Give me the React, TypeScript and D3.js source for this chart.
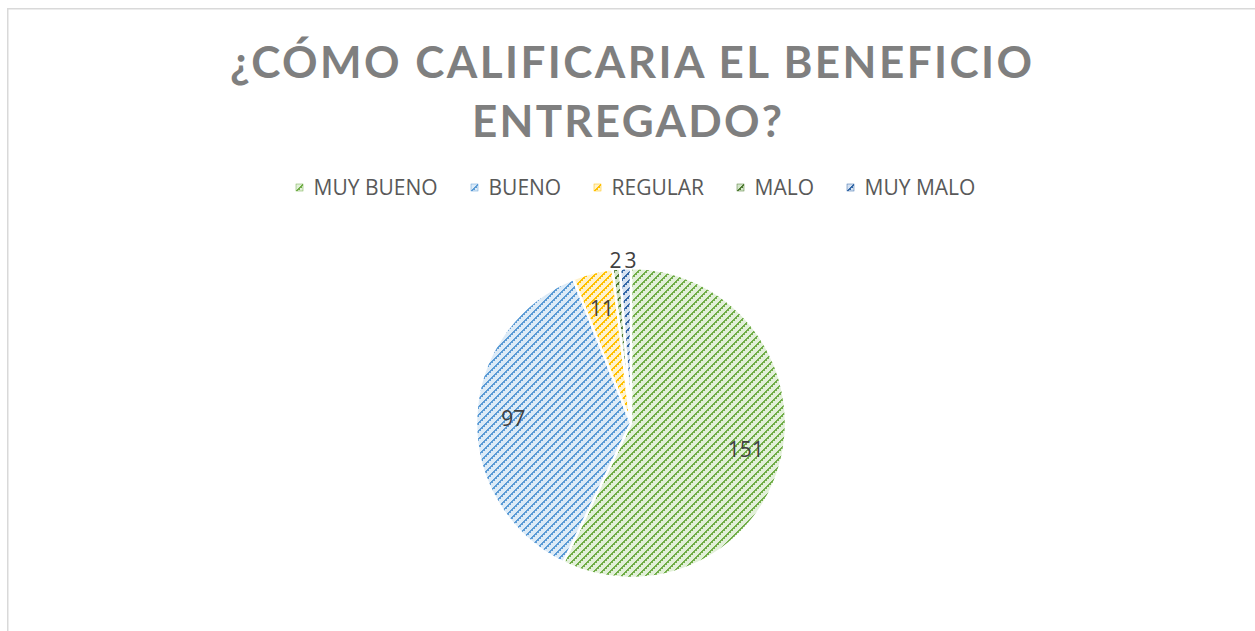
import React, { useEffect, useRef } from "react";
import * as d3 from "d3";

const titleLines = ["¿CÓMO CALIFICARIA EL BENEFICIO", "ENTREGADO?"];
const categories = ["MUY BUENO", "BUENO", "REGULAR", "MALO", "MUY MALO"];
const values = [151, 97, 11, 2, 3];
const darkColors = ["#70AD47", "#5B9BD5", "#FFC000", "#4E7A32", "#3468A6"];
const lightColors = ["#E2F0D9", "#DDEBF7", "#FFF2CC", "#D5E6CB", "#D6E2F2"];

const W = 1255;
const H = 631;

export default function App() {
  const ref = useRef<SVGSVGElement | null>(null);

  useEffect(() => {
    const svg = d3.select(ref.current);
    svg.selectAll("*").remove();
    const font = "'Open Sans', 'DejaVu Sans', sans-serif";
    const titleFont = "Lato, 'Open Sans', sans-serif";

    // defs: staircase diagonal patterns (8x8 tile)
    const defs = svg.append("defs");
    categories.forEach((c, i) => {
      const p = defs
        .append("pattern")
        .attr("id", `pat${i}`)
        .attr("patternUnits", "userSpaceOnUse")
        .attr("width", 8)
        .attr("height", 8);
      p.append("rect").attr("width", 8).attr("height", 8).attr("fill", lightColors[i]);
      for (let x = 0; x < 8; x++) {
        for (let y = 0; y < 8; y++) {
          const bx = Math.floor(x / 2);
          const by = Math.floor(y / 2);
          const s = (bx + by) % 4;
          const dark = s === 3 || (s === 2 && x % 2 === 1 && y % 2 === 1);
          if (dark) {
            p.append("rect")
              .attr("x", x)
              .attr("y", y)
              .attr("width", 1)
              .attr("height", 1)
              .attr("fill", darkColors[i])
              .attr("shape-rendering", "crispEdges");
          }
        }
      }
    });

    // background + border
    svg.append("rect").attr("width", W).attr("height", H).attr("fill", "#ffffff");
    svg
      .append("rect")
      .attr("x", 7.75)
      .attr("y", 8.75)
      .attr("width", W + 50)
      .attr("height", H + 50)
      .attr("fill", "none")
      .attr("stroke", "#D9D9D9")
      .attr("stroke-width", 1.5);

    // title
    const titleSpec = [
      { y: 78, cx: 631, len: 802 },
      { y: 137, cx: 627, len: 310 },
    ];
    titleLines.forEach((t, i) => {
      svg
        .append("text")
        .attr("x", titleSpec[i].cx)
        .attr("y", titleSpec[i].y)
        .attr("text-anchor", "middle")
        .attr("font-family", titleFont)
        .attr("font-weight", 700)
        .attr("font-size", 44)
        .attr("fill", "#7F7F7F")
        .attr("textLength", titleSpec[i].len)
        .attr("lengthAdjust", "spacing")
        .text(t);
    });

    // legend
    const legend = svg.append("g");
    const items = categories.map((c, i) => {
      const g = legend.append("g");
      g.append("rect")
        .attr("width", 7)
        .attr("height", 7)
        .attr("y", 184)
        .attr("fill", `url(#pat${i})`)
        .attr("stroke", darkColors[i])
        .attr("stroke-width", 0.5);
      const txt = g
        .append("text")
        .attr("x", 17.5)
        .attr("y", 195)
        .attr("font-family", font)
        .attr("font-size", 21)
        .attr("fill", "#595959")
        .text(c);
      const w = (txt.node() as SVGTextElement).getComputedTextLength();
      return { g, w: 17.5 + w };
    });
    const gap = 33;
    const total = d3.sum(items, (d) => d.w) + gap * (items.length - 1);
    let x = 636 - total / 2;
    items.forEach((it) => {
      it.g.attr("transform", `translate(${Math.round(x)},0)`);
      x += it.w + gap;
    });

    // pie
    const cx = 631;
    const cy = 423;
    const r = 155;
    const pie = d3.pie<number>().sort(null).value((d) => d);
    const arcs = pie(values);
    const arc = d3.arc<d3.PieArcDatum<number>>().innerRadius(0).outerRadius(r);
    const total2 = d3.sum(values);
    const g = svg.append("g").attr("transform", `translate(${cx},${cy})`);
    g.selectAll("path")
      .data(arcs)
      .join("path")
      .attr("d", arc)
      .attr("fill", (d, i) => `url(#pat${i})`)
      .attr("stroke", "#ffffff")
      .attr("stroke-width", 2.5)
      .attr("stroke-linejoin", "round");

    const inArc = d3.arc<d3.PieArcDatum<number>>().innerRadius(r * 0.76).outerRadius(r * 0.76);
    const outArc = d3.arc<d3.PieArcDatum<number>>().innerRadius(r + 8).outerRadius(r + 8);
    const labels = g
      .selectAll("text.lbl")
      .data(arcs)
      .join("text")
      .attr("class", "lbl")
      .attr("text-anchor", "middle")
      .attr("dy", "0.36em")
      .attr("font-family", font)
      .attr("font-size", 21)
      .attr("fill", "#404040")
      .text((d) => String(d.data));

    // position labels, outside labels for tiny slices with simple collision avoidance
    let prevRight = -Infinity;
    labels.each(function (d) {
      const node = this as SVGTextElement;
      const small = d.data / total2 < 0.02;
      const pos = small ? outArc.centroid(d) : inArc.centroid(d);
      let px = pos[0];
      if (small) {
        const w = node.getComputedTextLength();
        if (px - w / 2 < prevRight + 3) px = prevRight + 3 + w / 2;
        prevRight = px + w / 2;
      }
      d3.select(node).attr("transform", `translate(${px},${pos[1]})`);
    });
  }, []);

  return (
    <svg
      ref={ref}
      width={W}
      height={H}
      style={{ position: "absolute", left: 0, top: 0, display: "block" }}
    />
  );
}
